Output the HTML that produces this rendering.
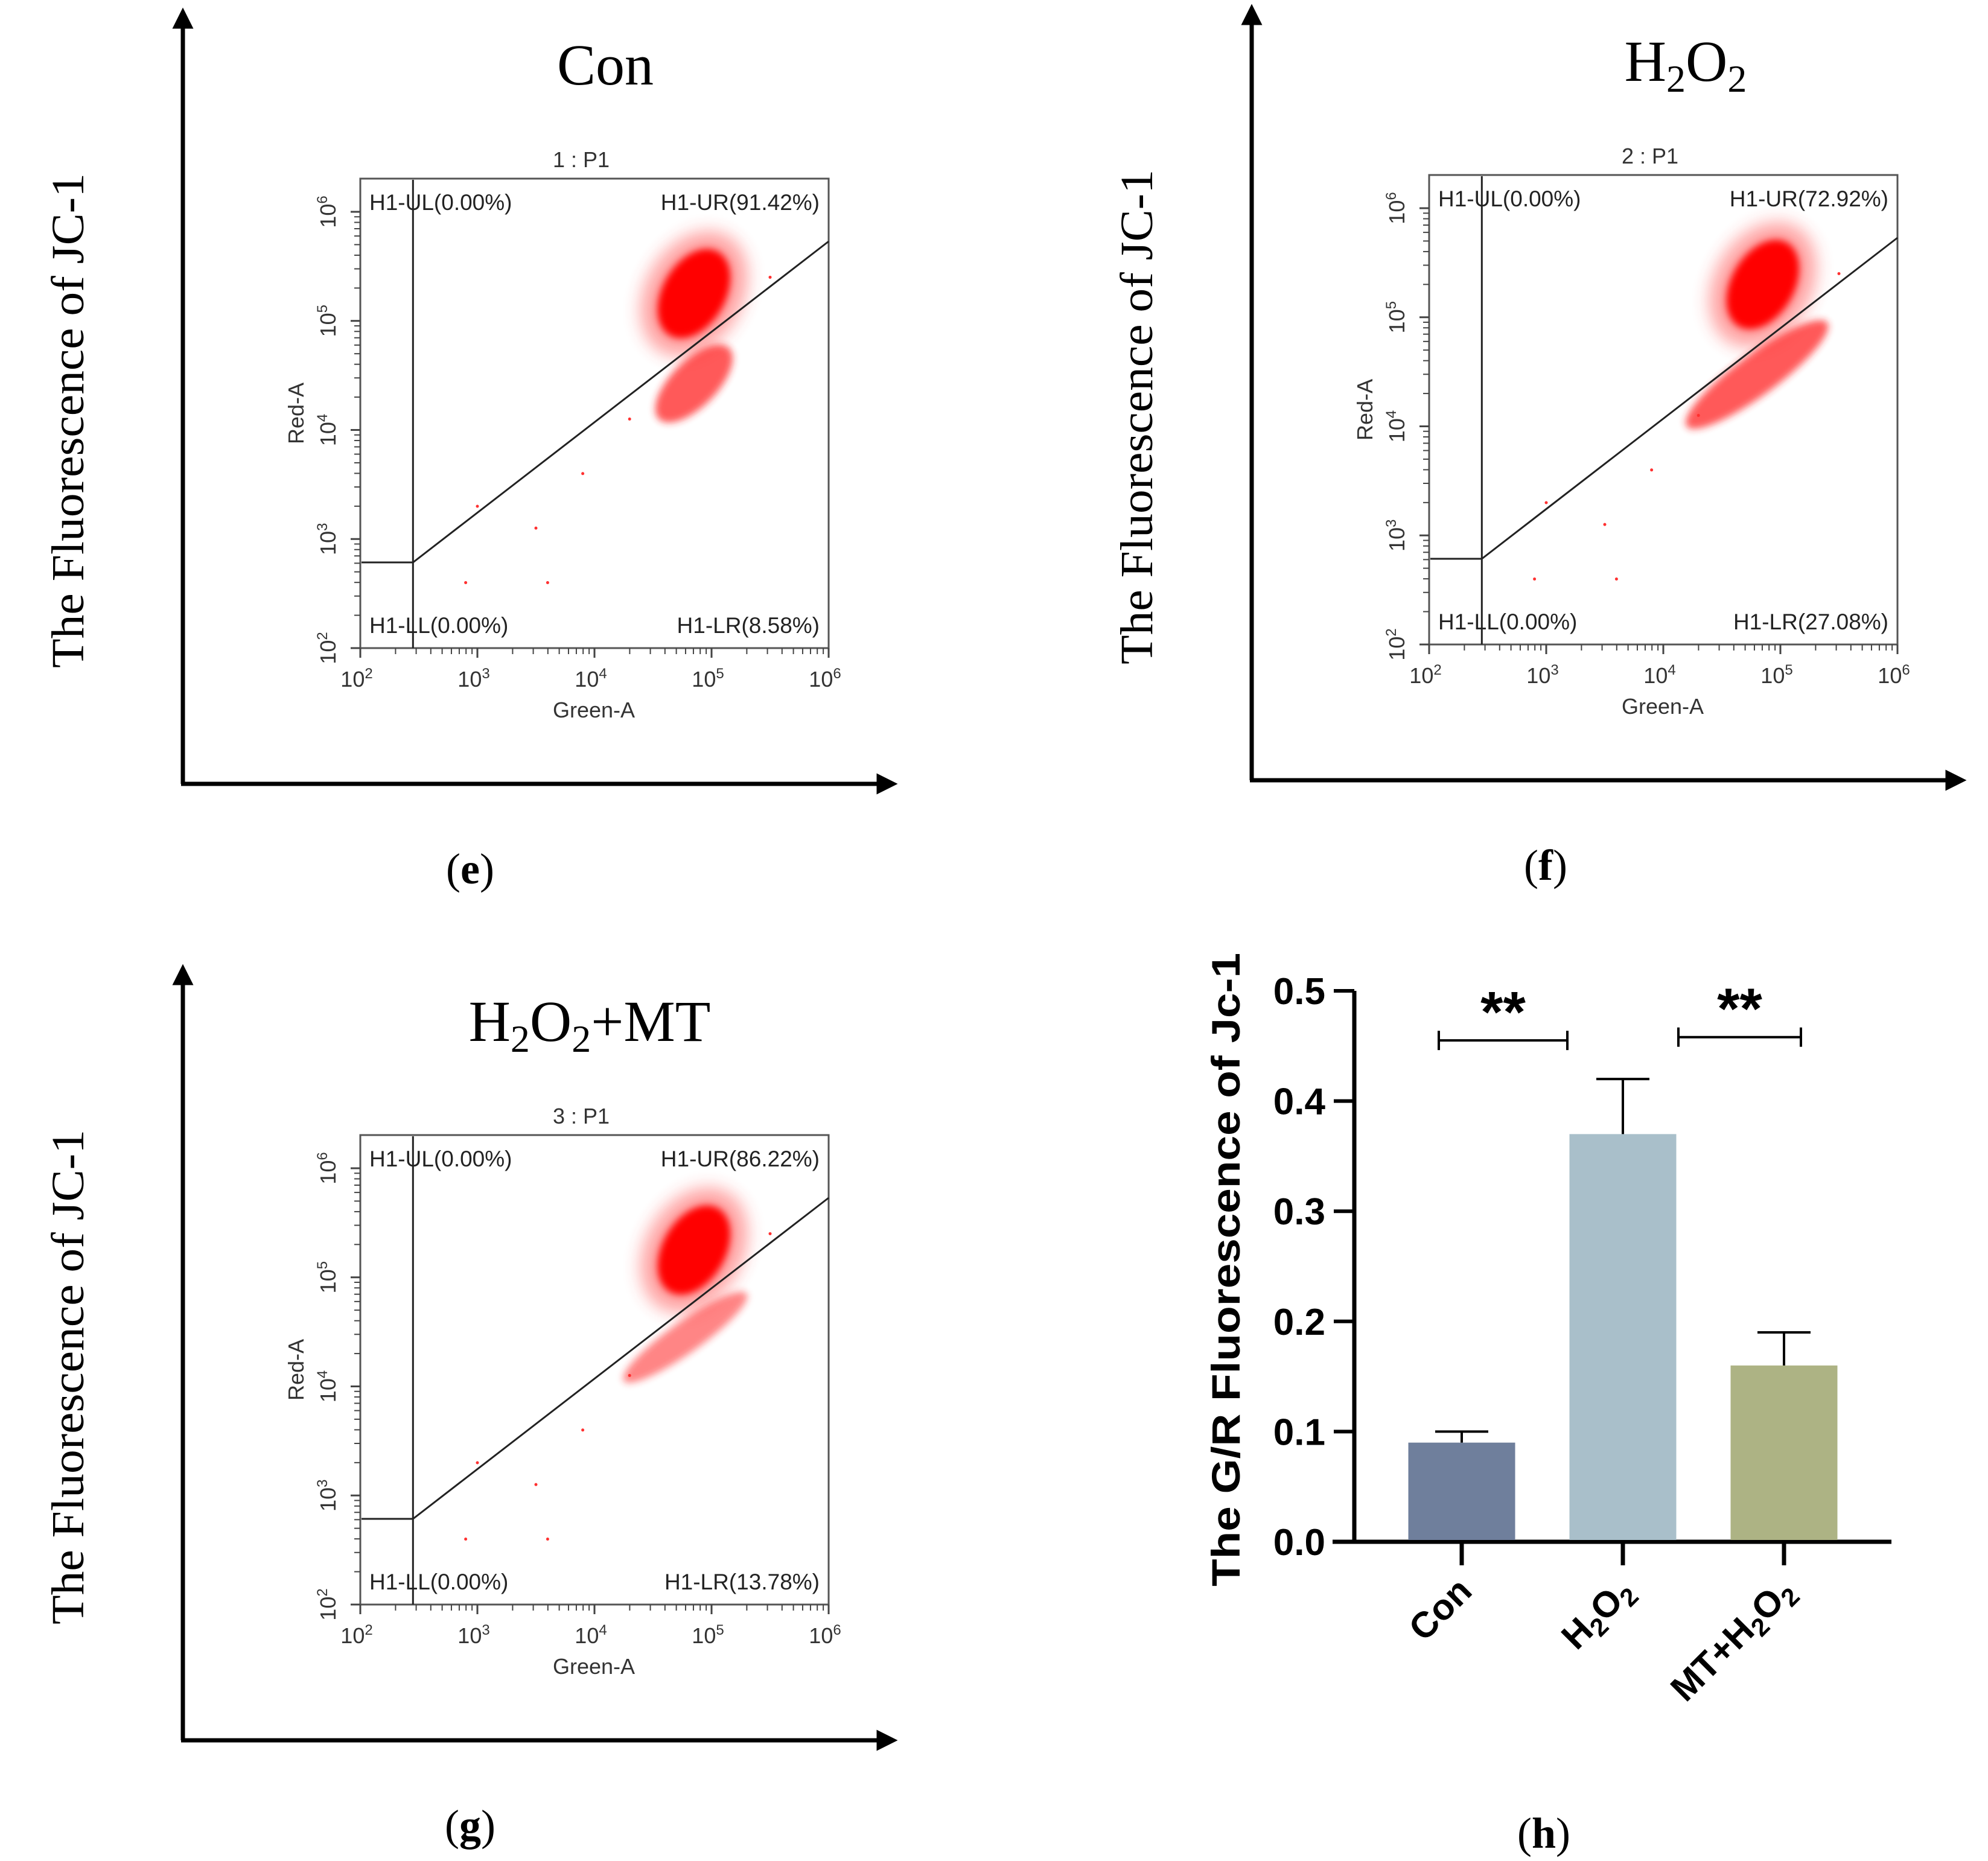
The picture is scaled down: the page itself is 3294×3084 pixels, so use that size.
<!DOCTYPE html>
<html><head><meta charset="utf-8">
<style>
html,body{margin:0;padding:0;background:#fff;}
svg{display:block;}
.ser{font-family:"Liberation Serif",serif;}
.sans{font-family:"Liberation Sans",sans-serif;}
</style></head>
<body>
<svg id="fig" width="3294" height="3084" viewBox="0 0 3294 3084" xmlns="http://www.w3.org/2000/svg">
<defs>
<filter id="blur" x="-50%" y="-50%" width="200%" height="200%"><feGaussianBlur stdDeviation="6"/></filter>
<filter id="blur2" x="-50%" y="-50%" width="200%" height="200%"><feGaussianBlur stdDeviation="14"/></filter>
<marker id="arr" viewBox="0 0 10 10" refX="5" refY="5" markerWidth="5" markerHeight="5" orient="auto"><path d="M0,0 L10,5 L0,10 z" fill="#000"/></marker>
</defs>
<g id="panels"></g>
<g id="barchart"></g>
</svg>
<script>
// ---- Flow panels data ----
const panelNames = ["Con","H2O2","H2O2+MT"];
const panelIds = ["1 : P1","2 : P1","3 : P1"];
const panelUL = ["0.00%","0.00%","0.00%"];
const panelUR = ["91.42%","72.92%","86.22%"];
const panelLL = ["0.00%","0.00%","0.00%"];
const panelLR = ["8.58%","27.08%","13.78%"];
const panelLetters = ["e","f","g"];
// cluster centres in log10 units [x, y]
const mainCluster = [[4.85,5.25],[4.85,5.3],[4.85,5.25]];
const lowerStart = [[4.55,4.1],[4.2,4.0],[4.25,4.05]];
const lowerEnd = [[5.15,4.75],[5.4,4.95],[5.3,4.85]];
const outliers = [[3.0,3.3],[3.5,3.1],[3.9,3.6],[3.6,2.6],[2.9,2.6],[4.3,4.1],[5.5,5.4]];
const xTicks = [2,3,4,5,6];

const NS="http://www.w3.org/2000/svg";
function mk(tag, attrs, parent, text){
  const e=document.createElementNS(NS,tag);
  for(const k in attrs) e.setAttribute(k, attrs[k]);
  if(text!==undefined) e.textContent=text;
  parent.appendChild(e); return e;
}
const offsets=[[0,0],[1771,-6],[0,1585]];
const titleX=[1003,2793,977];
const letterX=[779,2561,779];
const root=document.getElementById('panels');

for(let p=0;p<3;p++){
  const [ox,oy]=offsets[p];
  const g=mk('g',{transform:`translate(${ox},${oy})`},root);
  
  
  const X=v=>597+(v-2)*194;
  const Y=v=>1074-(v-2)*180.75;
  const ya=mk('line',{x1:303,y1:1299,x2:303,y2:30,stroke:'#000','stroke-width':7,'marker-end':'url(#arr)'},g);
  
  
  const xa=mk('line',{x1:300,y1:1299,x2:1470,y2:1299,stroke:'#000','stroke-width':7,'marker-end':'url(#arr)'},g);
  
  
  let t;
  if(p===0){
    t=mk('text',{x:titleX[p]-ox,y:140,'text-anchor':'middle','font-size':96,class:'ser'},g,'Con');
  } else {
    t=mk('text',{x:titleX[p]-ox,y:140,'text-anchor':'middle','font-size':96,class:'ser'},g);
    const parts=[['H',0],['2',1],['O',0],['2',1]];
    if(p===2) parts.push(['+MT',0]);
    let prevSub=false;
    parts.forEach(([s,sub])=>{
      const at=sub?{'font-size':64,dy:18}:{dy:prevSub?-18:0};
      mk('tspan',at,t,s); prevSub=!!sub;
    });
  }
  
  
  const yl=mk('text',{transform:'translate(138,697) rotate(-90)','text-anchor':'middle','font-size':76,class:'ser',textLength:820,lengthAdjust:'spacingAndGlyphs'},g,'The Fluorescence of  JC-1');
  
  
  const box=mk('rect',{x:597,y:296,width:776,height:778,fill:'none',stroke:'#555','stroke-width':3},g);
  
  
  const pid=mk('text',{x:963,y:277,'text-anchor':'middle','font-size':36,class:'sans',fill:'#333'},g,panelIds[p]);
  
  
  const cg=mk('g',{},g);
  
  
  const [mx,my]=mainCluster[p];
  mk('ellipse',{cx:X(mx),cy:Y(my),rx:80,ry:110,fill:'#ff3030',opacity:0.45,filter:'url(#blur2)',transform:`rotate(30 ${X(mx)} ${Y(my)})`},cg);
  mk('ellipse',{cx:X(mx),cy:Y(my),rx:52,ry:80,fill:'#ff0000',filter:'url(#blur)',transform:`rotate(30 ${X(mx)} ${Y(my)})`},cg);
  const [sx,sy]=lowerStart[p],[ex,ey]=lowerEnd[p];
  const cx=(X(sx)+X(ex))/2, cy=(Y(sy)+Y(ey))/2;
  const len=Math.hypot(X(ex)-X(sx),Y(ey)-Y(sy));
  const ang=Math.atan2(Y(ey)-Y(sy),X(ex)-X(sx))*180/Math.PI;
  const thick=p===0?38:(p===1?34:26);
  mk('ellipse',{cx:cx,cy:cy,rx:len/2,ry:thick,fill:'#ff2020',opacity:p===2?0.55:0.75,filter:'url(#blur)',transform:`rotate(${ang} ${cx} ${cy})`},cg);
  outliers.forEach(o=>{mk('circle',{cx:X(o[0]),cy:Y(o[1]),r:2.5,fill:'#ff3030'},cg);});
  const gate=mk('polyline',{points:`599,932 ${X(2.45)},932 ${X(6)},400`,fill:'none',stroke:'#222','stroke-width':3},g);
  
  
  mk('line',{x1:X(2.45),y1:298,x2:X(2.45),y2:1074,stroke:'#222','stroke-width':3},g);
  const q=[[612,348,'start','H1-UL('+panelUL[p]+')'],[1358,348,'end','H1-UR('+panelUR[p]+')'],[612,1049,'start','H1-LL('+panelLL[p]+')'],[1358,1049,'end','H1-LR('+panelLR[p]+')']];
  q.forEach((qq)=>{const e=mk('text',{x:qq[0],y:qq[1],'text-anchor':qq[2],'font-size':37,class:'sans',fill:'#222'},g,qq[3]);
    
    });
  xTicks.forEach((d,i)=>{
    mk('line',{x1:X(d),y1:1074,x2:X(d),y2:1090,stroke:'#444','stroke-width':3},g);
    mk('line',{x1:597,y1:Y(d),x2:581,y2:Y(d),stroke:'#444','stroke-width':3},g);
    if(i<4){for(let m=2;m<10;m++){const v=d+Math.log10(m);
      mk('line',{x1:X(v),y1:1074,x2:X(v),y2:1084,stroke:'#444','stroke-width':2},g);
      mk('line',{x1:597,y1:Y(v),x2:587,y2:Y(v),stroke:'#444','stroke-width':2},g);}}
    const xt=mk('text',{x:X(d)-6,y:1138,'text-anchor':'middle','font-size':36,class:'sans',fill:'#333'},g,'10');
    mk('tspan',{'font-size':24,dy:-14},xt,String(d));
    
    
    const yt=mk('text',{transform:`translate(556,${Y(d)}) rotate(-90)`,'text-anchor':'middle','font-size':36,class:'sans',fill:'#333'},g,'10');
    mk('tspan',{'font-size':24,dy:-14},yt,String(d));
    
    
  });
  const gl=mk('text',{x:984,y:1189,'text-anchor':'middle','font-size':36,class:'sans',fill:'#333'},g,'Green-A');
  
  
  const rl=mk('text',{transform:'translate(503,685) rotate(-90)','text-anchor':'middle','font-size':36,class:'sans',fill:'#333'},g,'Red-A');
  
  
  const lt=mk('text',{x:letterX[p]-ox,y:1464,'text-anchor':'middle','font-size':72,class:'ser'},g);
  mk('tspan',{},lt,'(');mk('tspan',{'font-weight':'bold'},lt,panelLetters[p]);mk('tspan',{},lt,')');
  
  
}

// ---- Bar chart data ----
const barCategories = ["Con","H2O2","MT+H2O2"];
const barValues = [0.09, 0.37, 0.16];
const barErrors = [0.01, 0.05, 0.03];
const yTickValues = [0.0,0.1,0.2,0.3,0.4,0.5];
const yTickLabels = ["0.0","0.1","0.2","0.3","0.4","0.5"];
const sigPairs = [[0,1,0.455],[1,2,0.458]];
const barColors = ["#6f7f9c","#a9bfca","#adb384"];

const bc=document.getElementById('barchart');
const yS=v=>2555-v*(2555-1642)/0.5;
const xC=i=>2422+i*267;
const bw=177;
mk('line',{x1:2244,y1:1642,x2:2244,y2:2558,stroke:'#000','stroke-width':7},bc);
mk('line',{x1:2208,y1:2555,x2:3134,y2:2555,stroke:'#000','stroke-width':7},bc);
yTickValues.forEach((v,i)=>{
  mk('line',{x1:2210,y1:yS(v),x2:2244,y2:yS(v),stroke:'#000','stroke-width':6},bc);
  const t=mk('text',{x:2196,y:yS(v)+22,'text-anchor':'end','font-size':62,'font-weight':'bold',class:'sans'},bc,yTickLabels[i]);
  
  
});
barCategories.forEach((c,i)=>{
  const x=xC(i);
  const r=mk('rect',{x:x-bw/2,y:yS(barValues[i]),width:bw,height:2552-yS(barValues[i]),fill:barColors[i]},bc);
  
  
  const top=yS(barValues[i]+barErrors[i]);
  mk('line',{x1:x,y1:yS(barValues[i]),x2:x,y2:top,stroke:'#000','stroke-width':4},bc);
  mk('line',{x1:x-44,y1:top,x2:x+44,y2:top,stroke:'#000','stroke-width':4},bc);
  mk('line',{x1:x,y1:2555,x2:x,y2:2594,stroke:'#000','stroke-width':7},bc);
  const lt=mk('text',{transform:`translate(${x+20},2640) rotate(-45)`,'text-anchor':'end','font-size':60,'font-weight':'bold',class:'sans'},bc);
  if(c==='Con'){lt.textContent='Con';}
  else{
    const pre=c==='MT+H2O2'?'MT+H':'H';
    mk('tspan',{},lt,pre);mk('tspan',{'font-size':42,dy:12},lt,'2');mk('tspan',{dy:-12},lt,'O');mk('tspan',{'font-size':42,dy:12},lt,'2');
  }
  
  
});
sigPairs.forEach(([a,b,v])=>{
  const x1=a===1?xC(a)+92:xC(a)-38;
  const x2=b===1?xC(b)-92:xC(b)+28;
  const y=yS(v);
  const bg=mk('g',{},bc);
  
  
  mk('line',{x1:x1,y1:y,x2:x2,y2:y,stroke:'#000','stroke-width':4},bg);
  mk('line',{x1:x1,y1:y-16,x2:x1,y2:y+16,stroke:'#000','stroke-width':4},bg);
  mk('line',{x1:x2,y1:y-16,x2:x2,y2:y+16,stroke:'#000','stroke-width':4},bg);
  mk('text',{x:(x1+x2)/2,y:y-14,'text-anchor':'middle','font-size':96,'font-weight':'bold',class:'sans'},bg,'**');
});
const yt=mk('text',{transform:'translate(2054,2104) rotate(-90)','text-anchor':'middle','font-size':66,'font-weight':'bold',class:'sans',textLength:1050,lengthAdjust:'spacingAndGlyphs'},bc,'The G/R Fluorescence of Jc-1');


const hl=mk('text',{x:2558,y:3062,'text-anchor':'middle','font-size':72,class:'ser'},bc);
mk('tspan',{},hl,'(');mk('tspan',{'font-weight':'bold'},hl,'h');mk('tspan',{},hl,')');


</script>
</body></html>
